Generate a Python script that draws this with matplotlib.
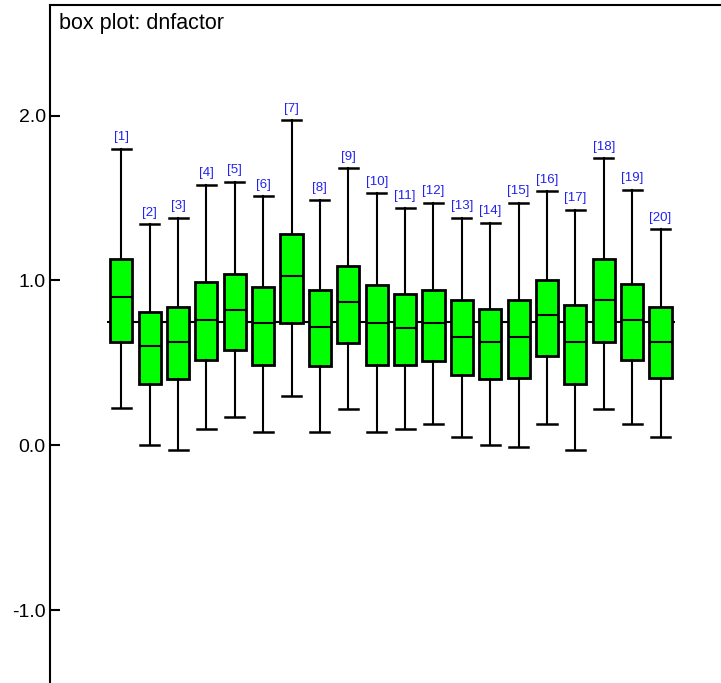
import matplotlib
matplotlib.use("Agg")
import matplotlib.pyplot as plt

plt.rcParams['font.family'] = ['Liberation Sans', 'DejaVu Sans']

labels = ['[%d]' % i for i in range(1, 21)]
whislo = [0.23, 0.00, -0.03, 0.10, 0.17, 0.08, 0.30, 0.08, 0.22, 0.08,
          0.10, 0.13, 0.05, 0.00, -0.01, 0.13, -0.03, 0.22, 0.13, 0.05]
q1 = [0.63, 0.37, 0.40, 0.52, 0.58, 0.49, 0.74, 0.48, 0.62, 0.49,
      0.49, 0.51, 0.43, 0.40, 0.41, 0.54, 0.37, 0.63, 0.52, 0.41]
med = [0.90, 0.60, 0.63, 0.76, 0.82, 0.74, 1.03, 0.72, 0.87, 0.74,
       0.71, 0.74, 0.66, 0.63, 0.66, 0.79, 0.63, 0.88, 0.76, 0.63]
q3 = [1.13, 0.81, 0.84, 0.99, 1.04, 0.96, 1.28, 0.94, 1.09, 0.97,
      0.92, 0.94, 0.88, 0.83, 0.88, 1.00, 0.85, 1.13, 0.98, 0.84]
whishi = [1.80, 1.34, 1.38, 1.58, 1.60, 1.51, 1.97, 1.49, 1.68, 1.53,
          1.44, 1.47, 1.38, 1.35, 1.47, 1.54, 1.43, 1.74, 1.55, 1.31]
ref_level = 0.75
yticks = [-1.0, 0.0, 1.0, 2.0]

stats = []
for i in range(len(labels)):
    stats.append({'label': labels[i], 'whislo': whislo[i], 'q1': q1[i], 'med': med[i],
                  'q3': q3[i], 'whishi': whishi[i], 'fliers': []})

fig = plt.figure(figsize=(7.21, 6.83), dpi=100)
ax = fig.add_axes([50 / 721, 0, 1 - 50 / 721, 1 - 5 / 683])

pos = list(range(1, len(labels) + 1))
ax.hlines(ref_level, 0.5, len(labels) + 0.5, colors='black', lw=1.5, zorder=1)
ax.bxp(stats, positions=pos, widths=0.78, patch_artist=True, showfliers=False,
       boxprops=dict(facecolor='#00ff00', edgecolor='black', linewidth=2),
       medianprops=dict(color='black', linewidth=1.5),
       whiskerprops=dict(color='black', linewidth=1.5),
       capprops=dict(color='black', linewidth=1.8),
       capwidths=0.67, zorder=2)

for p, hi, lab in zip(pos, whishi, labels):
    ax.annotate(lab, (p, hi), xytext=(0, 4), textcoords='offset points',
                ha='center', va='bottom', color='#2222ee', fontsize=9.5)

ax.set_xlim(-1.51, 22.13)
ax.set_ylim(-1.44, 2.67)
ax.set_xticks([])
ax.set_yticks(yticks)
ax.set_yticklabels(['%.1f' % t for t in yticks])
ax.tick_params(axis='y', direction='in', length=7, width=1.5, labelsize=14, pad=3)
ax.spines['right'].set_visible(False)
ax.spines['bottom'].set_visible(False)
ax.spines['left'].set_linewidth(1.5)
ax.spines['top'].set_linewidth(1.5)

ax.text(0.014, 0.988, 'box plot: dnfactor', transform=ax.transAxes,
        ha='left', va='top', fontsize=15.5)

fig.savefig('out.png', dpi=100)
